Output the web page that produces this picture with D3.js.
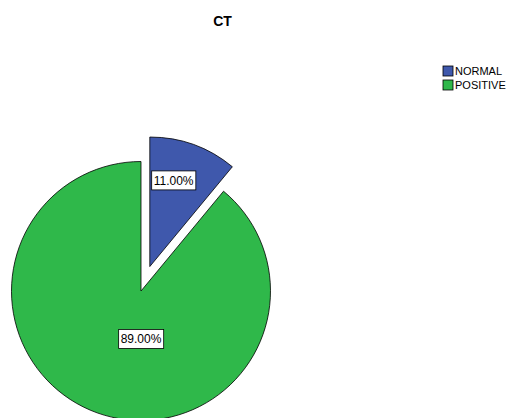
<!DOCTYPE html>
<html>
<head>
<meta charset="utf-8">
<script src="https://cdn.jsdelivr.net/npm/d3@7"></script>
<style>
  html, body { margin: 0; padding: 0; background: #fff; }
  svg { display: block; font-family: "Liberation Sans", Arial, sans-serif; }
</style>
</head>
<body>
<svg id="chart" width="508" height="418"></svg>
<script>
// CT results as percentages of cases
const categories = ["NORMAL", "POSITIVE"];
const percents = [11.0, 89.0];
const exploded = ["NORMAL"];
const chartTitle = "CT";

const width = 508, height = 418;
const cx = 141, cy = 291, radius = 129.5, explodeDist = 26;

const svg = d3.select("#chart");

const color = d3.scaleOrdinal()
  .domain(categories)
  .range(["#3f58ac", "#2fb84a"]);

const data = categories.map((c, i) => ({ name: c, value: percents[i] }));

const pie = d3.pie().value(d => d.value).sort(null);
const arc = d3.arc().innerRadius(0).outerRadius(radius);
const arcs = pie(data);

// Title
svg.append("text")
  .attr("x", 222.5).attr("y", 26)
  .attr("text-anchor", "middle")
  .attr("font-size", 14).attr("font-weight", "bold")
  .text(chartTitle);

const g = svg.append("g").attr("transform", `translate(${cx},${cy})`);

function shift(d) {
  if (!exploded.includes(d.data.name)) return [0, 0];
  const a = (d.startAngle + d.endAngle) / 2;
  return [Math.sin(a) * explodeDist, -Math.cos(a) * explodeDist];
}

const slice = g.selectAll("g.slice").data(arcs).join("g")
  .attr("class", "slice")
  .attr("transform", d => { const [x, y] = shift(d); return `translate(${x},${y})`; });

slice.append("path")
  .attr("d", arc)
  .attr("fill", d => color(d.data.name))
  .attr("stroke", "#000").attr("stroke-width", 0.8);

// Value labels in white boxes
function labelPos(d) {
  if (exploded.includes(d.data.name)) {
    const a = d.startAngle + (d.endAngle - d.startAngle) * 0.39;
    const r = radius * 0.69;
    return [Math.sin(a) * r, -Math.cos(a) * r];
  }
  return [0, radius * 0.37];
}

slice.each(function(d) {
  const [lx, ly] = labelPos(d);
  const lg = d3.select(this).append("g").attr("transform", `translate(${lx},${ly})`);
  const t = lg.append("text")
    .attr("text-anchor", "middle").attr("dy", "0.36em")
    .attr("font-size", 12).attr("fill", "#000")
    .text(d.data.value.toFixed(2) + "%");
  const bb = t.node().getBBox();
  lg.insert("rect", "text")
    .attr("x", bb.x - 2).attr("y", -9.5)
    .attr("width", bb.width + 4).attr("height", 19)
    .attr("fill", "#fff").attr("stroke", "#000").attr("stroke-width", 0.8);
});

// Legend
const legend = svg.append("g").attr("transform", "translate(443,66)");
const item = legend.selectAll("g").data(categories).join("g")
  .attr("transform", (d, i) => `translate(0,${i * 14})`);
item.append("rect")
  .attr("width", 10).attr("height", 10)
  .attr("fill", d => color(d)).attr("stroke", "#000").attr("stroke-width", 0.8);
item.append("text")
  .attr("x", 12).attr("y", 9)
  .attr("font-size", 11)
  .text(d => d);
</script>
</body>
</html>
